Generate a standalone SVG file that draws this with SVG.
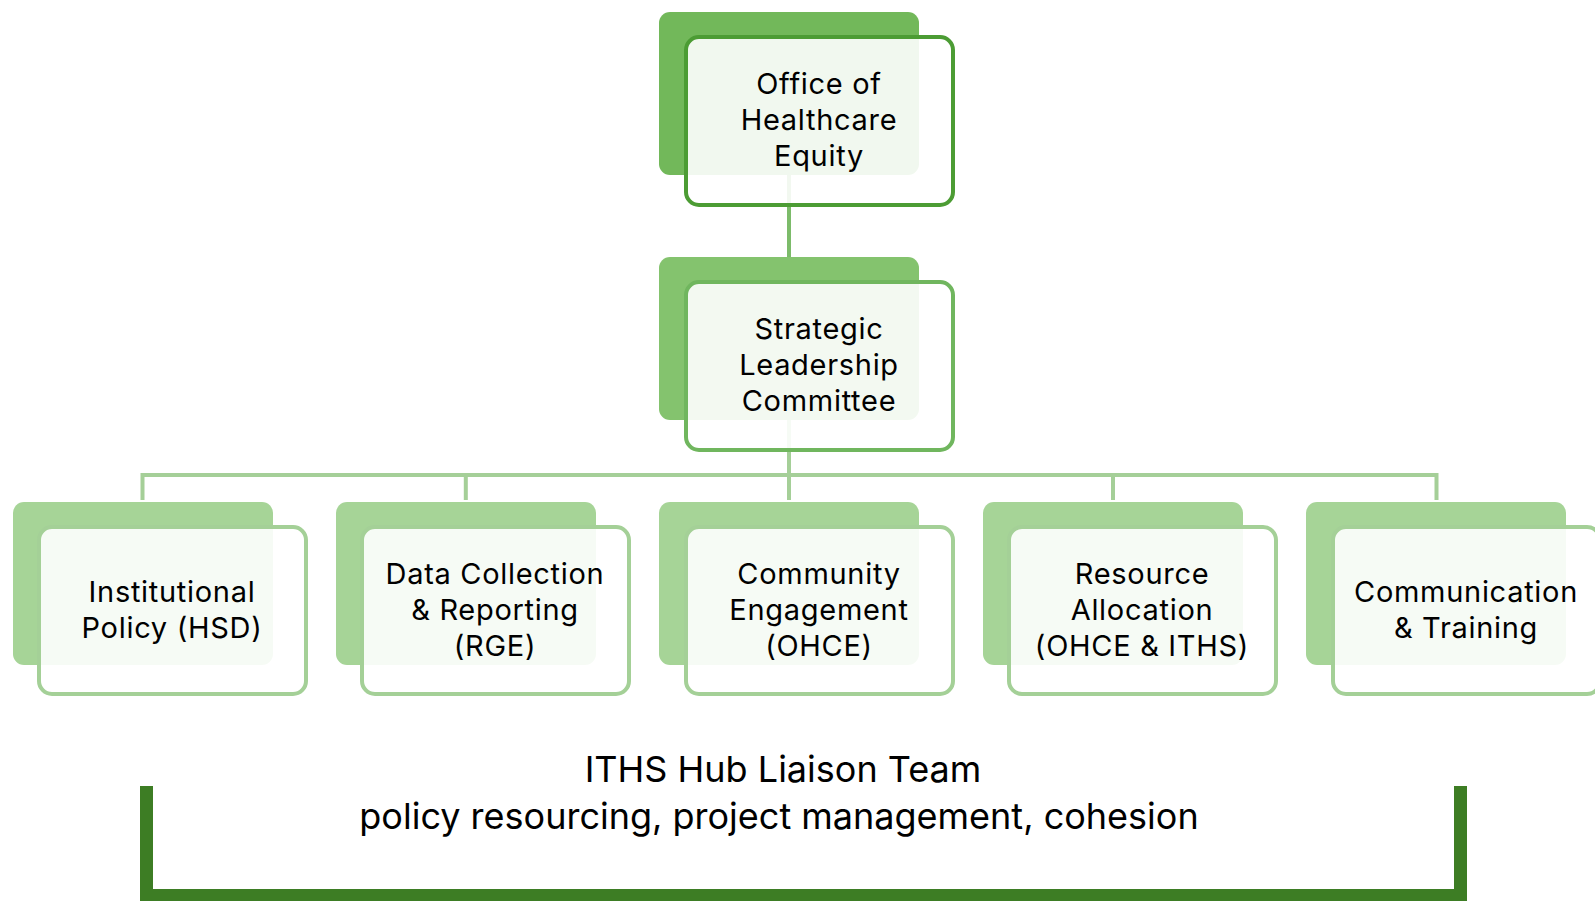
<svg xmlns="http://www.w3.org/2000/svg" width="1595" height="901" viewBox="0 0 1595 901">
  <style>
    .back { stroke: none; }
    .front { fill: #ffffff; fill-opacity: 0.9; stroke-width: 4; }
    .lbl { font-family: Inter, "Open Sans", "Liberation Sans", sans-serif; font-size: 29px; letter-spacing: 0.7px; fill: #000000; text-anchor: middle; }
    .team { font-family: Inter, "Open Sans", "Liberation Sans", sans-serif; font-size: 36px; fill: #000000; text-anchor: middle; }
    .l1 .back { fill: #72b85a; }
    .l1 .front { stroke: #4c9c34; }
    .l2 .back { fill: #84c36e; }
    .l2 .front { stroke: #70b65e; }
    .l3 .back { fill: #a6d497; }
    .l3 .front { stroke: #a4d097; }
  </style>

  <!-- connectors sit beneath the cards -->
  <g id="connectors" fill="none" stroke-width="4">
    <line x1="789" y1="170" x2="789" y2="262" stroke="#7cbb6a"/>
    <path d="M789 415 V500 M142.5 500 V475 H1436.5 V500 M465.8 475 V500 M1113 475 V500" stroke="#a5cf98"/>
  </g>

  <g id="office" class="l1">
    <rect class="back" x="659" y="12" width="260" height="163" rx="11"/>
    <rect class="front" x="686" y="37" width="267" height="168" rx="13"/>
    <text class="lbl" x="819" y="94">Office of</text>
    <text class="lbl" x="819" y="130">Healthcare</text>
    <text class="lbl" x="819" y="166">Equity</text>
  </g>

  <g id="strategic" class="l2">
    <rect class="back" x="659" y="257" width="260" height="163" rx="11"/>
    <rect class="front" x="686" y="282" width="267" height="168" rx="13"/>
    <text class="lbl" x="819" y="339">Strategic</text>
    <text class="lbl" x="819" y="375">Leadership</text>
    <text class="lbl" x="819" y="411">Committee</text>
  </g>

  <g id="institutional" class="l3">
    <rect class="back" x="13" y="502" width="260" height="163" rx="11"/>
    <rect class="front" x="39" y="527" width="267" height="167" rx="13"/>
    <text class="lbl" x="172" y="602">Institutional</text>
    <text class="lbl" x="172" y="638">Policy (HSD)</text>
  </g>

  <g id="data-collection" class="l3">
    <rect class="back" x="336" y="502" width="260" height="163" rx="11"/>
    <rect class="front" x="362" y="527" width="267" height="167" rx="13"/>
    <text class="lbl" x="495" y="584">Data Collection</text>
    <text class="lbl" x="495" y="620">&amp; Reporting</text>
    <text class="lbl" x="495" y="656">(RGE)</text>
  </g>

  <g id="community" class="l3">
    <rect class="back" x="659" y="502" width="260" height="163" rx="11"/>
    <rect class="front" x="686" y="527" width="267" height="167" rx="13"/>
    <text class="lbl" x="819" y="584">Community</text>
    <text class="lbl" x="819" y="620">Engagement</text>
    <text class="lbl" x="819" y="656">(OHCE)</text>
  </g>

  <g id="resource" class="l3">
    <rect class="back" x="983" y="502" width="260" height="163" rx="11"/>
    <rect class="front" x="1009" y="527" width="267" height="167" rx="13"/>
    <text class="lbl" x="1142" y="584">Resource</text>
    <text class="lbl" x="1142" y="620">Allocation</text>
    <text class="lbl" x="1142" y="656">(OHCE &amp; ITHS)</text>
  </g>

  <g id="communication" class="l3">
    <rect class="back" x="1306" y="502" width="260" height="163" rx="11"/>
    <rect class="front" x="1333" y="527" width="267" height="167" rx="13"/>
    <text class="lbl" x="1466" y="602">Communication</text>
    <text class="lbl" x="1466" y="638">&amp; Training</text>
  </g>

  <!-- liaison team bracket -->
  <g id="liaison-team">
    <path d="M146.5 786 V895.5 H1460.5 V786" fill="none" stroke="#3d7d24" stroke-width="13"/>
    <text class="team" x="783" y="782">ITHS Hub Liaison Team</text>
    <text class="team" x="779" y="829">policy resourcing, project management, cohesion</text>
  </g>
</svg>
